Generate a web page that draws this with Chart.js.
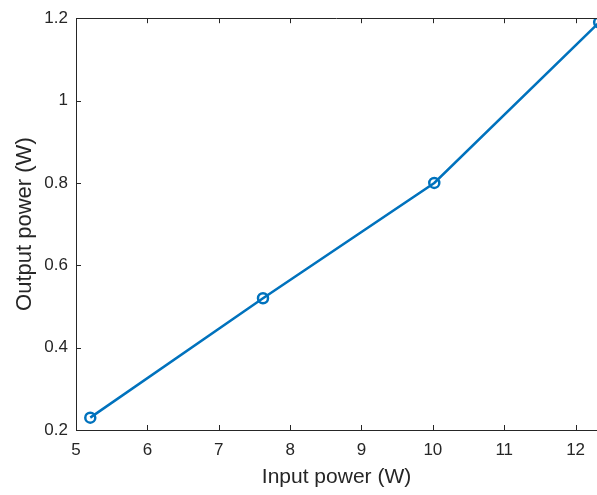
<!DOCTYPE html>
<html>
<head>
<meta charset="utf-8">
<script src="https://cdn.jsdelivr.net/npm/chart.js@4/dist/chart.umd.min.js"></script>
<style>
  html, body { margin: 0; padding: 0; background: #ffffff; }
  #wrap { width: 597px; height: 495px; }
</style>
</head>
<body>
<div id="wrap"><canvas id="chart" width="597" height="495"></canvas></div>
<script>
// measured points
const inputPower = [5.2, 7.62, 10.02, 12.33];
const outputPower = [0.23, 0.52, 0.80, 1.19];

// axis ticks
const xTicks = [5, 6, 7, 8, 9, 10, 11, 12];
const yTicks = [0.2, 0.4, 0.6, 0.8, 1, 1.2];

const axisColor = '#262626';
const lineColor = '#0072BD';
const fontFamily = 'Liberation Sans, Arial, sans-serif';

// inward tick marks plus the top edge of the box
const boxTicks = {
    id: 'boxTicks',
    afterDraw(chart) {
        const ctx = chart.ctx;
        const area = chart.chartArea;
        const xs = chart.scales.x;
        const ys = chart.scales.y;
        const len = 5;
        ctx.save();
        ctx.strokeStyle = axisColor;
        ctx.lineWidth = 1;
        ctx.beginPath();
        ctx.moveTo(area.left, Math.round(area.top) + 0.5);
        ctx.lineTo(area.right, Math.round(area.top) + 0.5);
        xTicks.forEach(v => {
            const px = Math.round(xs.getPixelForValue(v)) + 0.5;
            ctx.moveTo(px, area.bottom);
            ctx.lineTo(px, area.bottom - len);
            ctx.moveTo(px, area.top);
            ctx.lineTo(px, area.top + len);
        });
        yTicks.forEach(v => {
            const py = Math.round(ys.getPixelForValue(v)) + 0.5;
            ctx.moveTo(area.left, py);
            ctx.lineTo(area.left + len, py);
        });
        ctx.stroke();
        ctx.restore();
    }
};

const points = inputPower.map((x, i) => ({ x: x, y: outputPower[i] }));

new Chart(document.getElementById('chart'), {
    type: 'line',
    data: {
        datasets: [{
            data: points,
            borderColor: lineColor,
            borderWidth: 2.5,
            pointRadius: 5,
            pointBorderWidth: 2.5,
            pointBorderColor: lineColor,
            pointBackgroundColor: 'rgba(0,0,0,0)',
            tension: 0
        }]
    },
    options: {
        responsive: false,
        animation: false,
        layout: { autoPadding: false, padding: { top: 18, right: 0, left: 0, bottom: 0 } },
        plugins: {
            legend: { display: false },
            tooltip: { enabled: false }
        },
        scales: {
            x: {
                type: 'linear',
                min: 5,
                max: 12.3,
                afterBuildTicks: s => { s.ticks = xTicks.map(v => ({ value: v })); },
                afterFit: s => { s.height = 65; },
                grid: { display: false, drawTicks: false },
                border: { display: true, color: axisColor, width: 1 },
                ticks: {
                    color: axisColor,
                    padding: 10,
                    maxRotation: 0,
                    font: { family: fontFamily, size: 17 }
                },
                title: {
                    display: true,
                    text: 'Input power (W)',
                    color: axisColor,
                    padding: { top: 4, bottom: 5 },
                    font: { family: fontFamily, size: 21 }
                }
            },
            y: {
                type: 'linear',
                min: 0.2,
                max: 1.2,
                afterBuildTicks: s => { s.ticks = yTicks.map(v => ({ value: v })); },
                afterFit: s => { s.width = 76; },
                grid: { display: false, drawTicks: false },
                border: { display: true, color: axisColor, width: 1 },
                ticks: {
                    color: axisColor,
                    padding: 8,
                    font: { family: fontFamily, size: 17 },
                    callback: v => String(Math.round(v * 10) / 10)
                },
                title: {
                    display: true,
                    text: 'Output power (W)',
                    color: axisColor,
                    padding: { top: 12, bottom: 0 },
                    font: { family: fontFamily, size: 22 }
                }
            }
        }
    },
    plugins: [boxTicks]
});
</script>
</body>
</html>
